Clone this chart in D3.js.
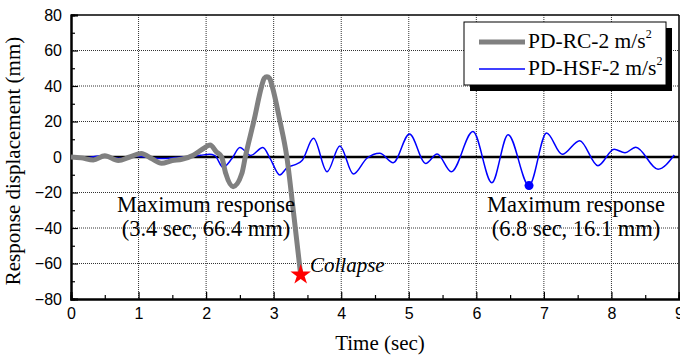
<!DOCTYPE html>
<html><head><meta charset="utf-8">
<script src="https://cdn.jsdelivr.net/npm/d3@7"></script>
<style>body{margin:0;background:#fff}svg{display:block}</style>
</head><body>
<svg id="c" width="680" height="358"></svg>
<script>
// ---- data ----
const rcTime = [0,0.15,0.33,0.5,0.7,0.87,1.04,1.2,1.34,1.5,1.64,1.81,1.95,2.06,2.15,2.23,2.29,2.4,2.53,2.58,2.71,2.82,2.86,2.9,2.94,2.98,3.09,3.195,3.29,3.4];
const rcDisp = [0,-0.5,-1.7,0.7,-2,0,2,-1,-3.5,-2,-1.3,1,4.5,6.8,3,0,-9.2,-16.7,-9.2,0,20.8,39.6,44.3,45.2,44.3,39.6,20.8,0,-30,-66.4];
const hsfTime = [0,0.2,0.42,0.6,0.78,0.95,1.15,1.35,1.55,1.75,1.92,2.05,2.13,2.25,2.38,2.5,2.66,2.84,2.95,3.09,3.2,3.32,3.42,3.59,3.79,3.98,4.18,4.38,4.57,4.77,5.01,5.25,5.42,5.63,5.95,6.23,6.47,6.78,7.04,7.27,7.53,7.8,8.04,8.2,8.36,8.69,8.93];
const hsfDisp = [0,-0.6,0.6,-0.4,-0.8,0.4,-0.2,-0.9,-0.3,0.3,1.0,1.5,0.8,-5.8,-1.0,5.3,0.8,5.3,-1,-10.1,-6.0,-4.3,-2.0,10.5,-8.3,6.2,-9.6,-0.7,2.1,-3.2,13.0,-3.6,1.7,-8.3,14.3,-14.5,12.6,-16.1,13.5,1.5,9.2,-4.9,4.3,2.4,5.5,-6.9,1.1];
const seriesNames = ["PD-RC-2 m/s", "PD-HSF-2 m/s"];
const xTicks = [0,1,2,3,4,5,6,7,8,9];
const yTicks = [-80,-60,-40,-20,0,20,40,60,80];
const rcMax = [3.4, -66.4];
const hsfMax = [6.78, -16.1];
const rcLabel = ["Maximum response", "(3.4 sec, 66.4 mm)"];
const hsfLabel = ["Maximum response", "(6.8 sec, 16.1 mm)"];

// ---- layout ----
const svg = d3.select("#c");
const L = 71, R = 679, T = 15, B = 299;
const x = d3.scaleLinear().domain([0, 9]).range([L, R]);
const y = d3.scaleLinear().domain([-80, 80]).range([B, T]);
const serif = "'Liberation Serif','Times New Roman',serif";
const sans = "'Liberation Sans',Arial,sans-serif";

// grid
const g = svg.append("g");
g.selectAll(".gx").data(xTicks.slice(1, -1)).enter().append("line")
  .attr("x1", d => x(d)).attr("x2", d => x(d)).attr("y1", T).attr("y2", B)
  .attr("stroke", "#333").attr("stroke-width", 1).attr("stroke-dasharray", "1,1");
g.selectAll(".gy").data(yTicks.filter(d => d !== 0 && d !== -80 && d !== 80)).enter().append("line")
  .attr("x1", L).attr("x2", R).attr("y1", d => y(d)).attr("y2", d => y(d))
  .attr("stroke", "#333").attr("stroke-width", 1).attr("stroke-dasharray", "1,1");

// frame top/right
svg.append("line").attr("x1", L).attr("x2", R).attr("y1", T).attr("y2", T).attr("stroke", "#000").attr("stroke-width", 1.5);
svg.append("line").attr("x1", R).attr("x2", R).attr("y1", T).attr("y2", B).attr("stroke", "#000").attr("stroke-width", 1.5);

// zero line
svg.append("line").attr("x1", L).attr("x2", R).attr("y1", y(0)).attr("y2", y(0)).attr("stroke", "#000").attr("stroke-width", 2.5);

// axes
const xAxis = svg.append("g").attr("transform", `translate(0,${B})`)
  .call(d3.axisBottom(x).tickValues(xTicks).tickSize(-7).tickPadding(12).tickFormat(d3.format("d")));
const xMinor = svg.append("g").attr("transform", `translate(0,${B})`)
  .call(d3.axisBottom(x).tickValues(d3.range(0.5, 9, 1)).tickSize(-4).tickFormat(""));
const yAxis = svg.append("g").attr("transform", `translate(${L},0)`)
  .call(d3.axisLeft(y).tickValues(yTicks).tickSize(-7).tickPadding(9).tickFormat(d3.format("d")));
const yMinor = svg.append("g").attr("transform", `translate(${L},0)`)
  .call(d3.axisLeft(y).tickValues(d3.range(-70, 80, 20)).tickSize(-4).tickFormat(""));
[xAxis, xMinor, yAxis, yMinor].forEach(a => {
  a.select(".domain").attr("stroke", "#000").attr("stroke-width", 2);
  a.selectAll(".tick line").attr("stroke", "#000").attr("stroke-width", 1.2);
  a.selectAll("text").attr("font-family", sans).attr("font-size", 16).attr("fill", "#000");
});
xAxis.selectAll("text").attr("dy", "0.71em").attr("y", 9);

// axis titles
svg.append("text").attr("x", 380).attr("y", 350).attr("text-anchor", "middle")
  .attr("font-family", serif).attr("font-size", 21).text("Time (sec)");
svg.append("text").attr("transform", "translate(20,161) rotate(-90)").attr("text-anchor", "middle")
  .attr("font-family", serif).attr("font-size", 21).text("Response displacement (mm)");

// lines
const line = d3.line().x(d => x(d[0])).y(d => y(d[1])).curve(d3.curveMonotoneX);
const hsf = hsfTime.map((t, i) => [t, hsfDisp[i]]);
const rc = rcTime.map((t, i) => [t, rcDisp[i]]);
svg.append("path").datum(hsf).attr("d", line).attr("fill", "none").attr("stroke", "#0000ff").attr("stroke-width", 1.5);
svg.append("path").datum(rc).attr("d", line).attr("fill", "none").attr("stroke", "#808080").attr("stroke-width", 5).attr("stroke-linejoin", "round");

// markers
svg.append("path").attr("d", d3.symbol(d3.symbolStar, 130)())
  .attr("transform", `translate(${x(rcMax[0])},${y(rcMax[1])})`).attr("fill", "#ff0000");
svg.append("circle").attr("cx", x(hsfMax[0])).attr("cy", y(hsfMax[1])).attr("r", 4.5).attr("fill", "#0000ff");

// annotations
function block(lines, cx, y0) {
  lines.forEach((s, i) => svg.append("text").attr("x", cx).attr("y", y0 + i * 24)
    .attr("text-anchor", "middle").attr("font-family", serif).attr("font-size", 22.5).text(s));
}
block(rcLabel, 206, 212);
block(hsfLabel, 576, 212);
svg.append("text").attr("x", 310).attr("y", 272).attr("font-family", serif).attr("font-style", "italic")
  .attr("font-size", 21).text("Collapse");

// legend
const lg = svg.append("g");
lg.append("rect").attr("x", 470).attr("y", 28).attr("width", 202).attr("height", 63).attr("fill", "#000");
lg.append("rect").attr("x", 464).attr("y", 22).attr("width", 202).attr("height", 63).attr("fill", "#fff").attr("stroke", "#000").attr("stroke-width", 1);
const legColors = ["#808080", "#0000ff"], legW = [5, 1.5], legY = [42, 69];
seriesNames.forEach((n, i) => {
  lg.append("line").attr("x1", 479).attr("x2", 525).attr("y1", legY[i]).attr("y2", legY[i])
    .attr("stroke", legColors[i]).attr("stroke-width", legW[i]);
  const t = lg.append("text").attr("x", 528).attr("y", legY[i] + 6).attr("font-family", serif).attr("font-size", 21.5);
  t.append("tspan").text(n);
  t.append("tspan").attr("font-size", 12).attr("dy", -10).text("2");
});
</script>
</body></html>
